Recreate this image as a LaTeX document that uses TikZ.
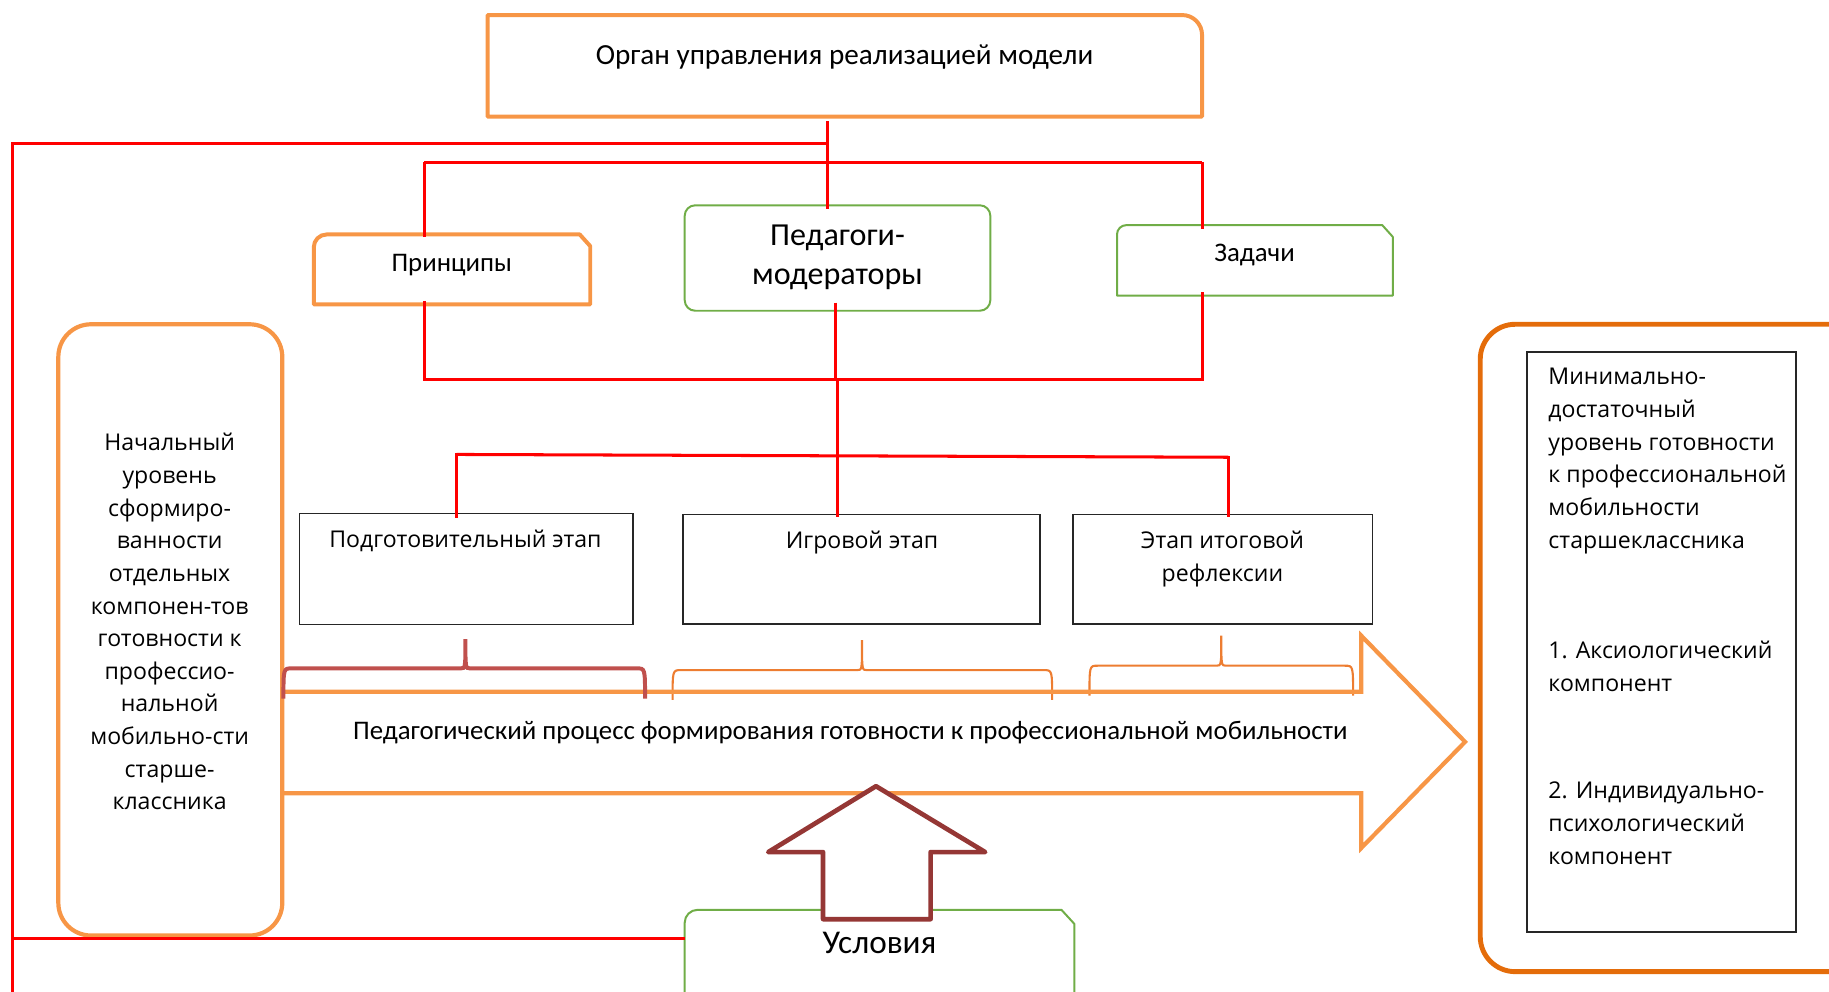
\documentclass[tikz,border=0pt]{standalone}
\usepackage{fontspec}
\setmainfont{Carlito}
\newfontfamily\widefont{Open Sans}
\usetikzlibrary{fit}
\definecolor{orgL}{HTML}{F79646}
\definecolor{orgD}{HTML}{E46C0A}
\definecolor{orgM}{HTML}{ED7D31}
\definecolor{grn}{HTML}{70AD47}
\definecolor{rd}{HTML}{FF0000}
\definecolor{brc}{HTML}{C0504D}
\definecolor{darr}{HTML}{953735}
\newcommand{\mybrace}[7]{\draw[#1] (#2,#5) .. controls (#2,#4) .. (#2+7,#4) -- (#3-4,#4) .. controls (#3,#4) .. (#3,#6) .. controls (#3,#4) .. (#3+4,#4) -- (#7-7,#4) .. controls (#7,#4) .. (#7,#5);}
\begin{document}
\begin{tikzpicture}[x=1pt,y=-1pt,
  frame/.style={inner sep=0pt, outer sep=0pt},
  obox/.style={draw=orgL, line width=3.4pt, line join=round},
  gbox/.style={draw=grn, line width=1.7pt, line join=round},
  kbox/.style={draw=black!85, line width=1.1pt},
  rl/.style={draw=rd, line width=2.6pt},
  cal/.style={font=\fontsize{23}{28}\selectfont, inner sep=0pt, align=center},
  calbig/.style={font=\fontsize{27.5}{33}\selectfont, inner sep=0pt, align=center},
  wd/.style={font=\widefont\fontsize{19.8}{28}\selectfont, inner sep=0pt},
  brA/.style={draw=brc, line width=3.4pt},
  brB/.style={draw=orgM, line width=1.8pt},
]
\useasboundingbox (0,0) rectangle (1568,850);
\clip (0,0) rectangle (1568,850);

% ---------- frames ----------
\node[frame, fit={(418,12.9) (1030.5,100)}] (organ) {};
\node[frame, fit={(269,201) (506,261)}] (princ) {};
\node[frame, gbox, rounded corners=9pt, fit={(587,176) (849,266.4)}] (ped) {};
\node[frame, fit={(957.6,193) (1194,253.5)}] (zad) {};
\node[frame, obox, line width=3.6pt, rounded corners=28pt, fit={(50,278) (242,802)}] (lbox) {};
\node[frame, kbox, fit={(256.8,440.3) (542.7,535.6)}] (st1) {};
\node[frame, kbox, fit={(585.5,441) (891.6,535)}] (st2) {};
\node[frame, kbox, fit={(919.9,441) (1176.9,535)}] (st3) {};
\node[frame, fit={(587,780) (921,900)}] (usl) {};
\node[frame, draw=orgD, line width=4.2pt, rounded corners=30pt, fit={(1269,278) (1620,833)}] (rbox) {};
\node[frame, kbox, fit={(1309,301.8) (1539.7,799)}] (rin) {};

% top box: top-right corner rounded
\draw[obox] (organ.south west) -- (organ.north west) -- ([xshift=-17pt]organ.north east)
  arc[start angle=90, end angle=0, radius=17pt] -- (organ.south east) -- cycle;
% principles: top-left rounded, top-right snipped
\draw[obox] (princ.south west) -- ([yshift=-11pt]princ.north west)
  arc[start angle=180, end angle=90, radius=11pt] -- ([xshift=-9pt]princ.north east)
  -- ([yshift=-10pt]princ.north east) -- (princ.south east) -- cycle;
% tasks
\draw[gbox] (zad.south west) -- ([yshift=-8pt]zad.north west)
  arc[start angle=180, end angle=90, radius=8pt] -- ([xshift=-9pt]zad.north east)
  -- ([yshift=-10pt]zad.north east) -- (zad.south east) -- cycle;
% conditions
\draw[gbox] (usl.south west) -- ([yshift=-11pt]usl.north west)
  arc[start angle=180, end angle=90, radius=11pt] -- ([xshift=-11pt]usl.north east)
  -- ([yshift=-12pt]usl.north east) -- (usl.south east);

% ---------- red connectors ----------
\coordinate (tA) at (709,104);
\coordinate (tB) at (709,179.5);
\coordinate (hA) at (10.7,122.9);
\coordinate (hB) at (709,122.9);
\coordinate (lowL) at (10.7,870);
\coordinate (bL) at (10.7,804.6);
\coordinate (bR) at (587,804.6);
\coordinate (b2L) at (363.6,139);
\coordinate (b2R) at (1030.5,139);
\coordinate (pT) at (363.6,203);
\coordinate (zT) at (1030.5,196);
\coordinate (pB) at (363.6,258);
\coordinate (zB) at (1030.5,250);
\coordinate (j3L) at (363.6,325);
\coordinate (j3R) at (1030.5,325);
\coordinate (mA) at (716.4,259.5);
\coordinate (mB) at (716.4,327);
\coordinate (mC) at (717.6,325);
\coordinate (mD) at (717.6,443);
\coordinate (s1) at (391.5,389.6);
\coordinate (s3) at (1053,392);
\coordinate (s1b) at (391.5,443.7);
\coordinate (s3b) at (1053,443);

\draw[rl] (tA) -- (tB);
\draw[rl] (hB) -- (hA) -- (lowL);
\draw[rl] (bL) -- (bR);
\draw[rl] (b2L) -- (b2R);
\draw[rl] (b2L) -- (pT);
\draw[rl] (b2R) -- (zT);
\draw[rl] (pB) -- (j3L) -- (j3R) -- (zB);
\draw[rl] (mA) -- (mB);
\draw[rl] (mC) -- (mD);
\draw[rl] (s1) -- (s3);
\draw[rl] ([yshift=1pt]s1) -- (s1b);
\draw[rl] ([yshift=1pt]s3) -- (s3b);

% ---------- braces ----------
\mybrace{brB}{576.6}{739}{574.5}{600}{548.7}{902}
\mybrace{brB}{934}{1047}{570.7}{596.4}{545}{1160}

% ---------- big arrow ----------
\draw[draw=orgL, line width=3.6pt, line join=miter]
  (243,593) -- (1167,593) -- (1167,545) -- (1256,636) -- (1167,727) -- (1167,680) -- (243,680);
\mybrace{brA}{243}{399}{573}{599}{548}{553}

% ---------- up arrow ----------
\draw[draw=darr, fill=white, line width=4pt, line join=round]
  (751,674) -- (844.6,730.5) -- (797.8,730.5) -- (797.8,788) -- (705.6,788)
  -- (705.6,730.5) -- (658.6,730.5) -- cycle;

% ---------- texts ----------
\node[cal, font=\fontsize{25}{30}\selectfont] (organT) at (724,48.6) {Орган управления реализацией модели};
\node[cal] (princT) at (387.3,227) {Принципы};
\node[calbig] (pedT) at (718,220.5) {Педагоги-\\модераторы};
\node[cal] (zadT) at (1075.5,218.6) {Задачи};
\node[calbig, font=\fontsize{28.5}{33}\selectfont] (uslT) at (754,808.6) {Условия};
\node[cal, font=\fontsize{23}{27}\selectfont] (arrT) at (729,628) {Педагогический процесс формирования готовности к профессиональной мобильности};
\node[wd, align=center] (lboxT) at (145.4,533) {Начальный\\уровень\\сформиро-\\ванности\\отдельных\\компонен-тов\\готовности к\\профессио-\\нальной\\мобильно-сти\\старше-\\классника};
\node[wd] (st1T) at (399,464.1) {Подготовительный этап};
\node[wd] (st2T) at (739,465) {Игровой этап};
\node[wd, align=center] (st3T) at (1048,479) {Этап итоговой\\рефлексии};
\node[wd, align=left, anchor=west] (rT1) at (1327.3,395.2) {Минимально-\\достаточный\\уровень готовности\\к профессиональной\\мобильности\\старшеклассника};
\node[wd, align=left, anchor=west] (rT2) at (1327.3,571.5) {1. Аксиологический\\компонент};
\node[wd, align=left, anchor=west] (rT3) at (1327.3,705.8) {2. Индивидуально-\\психологический\\компонент};
\end{tikzpicture}
\end{document}
